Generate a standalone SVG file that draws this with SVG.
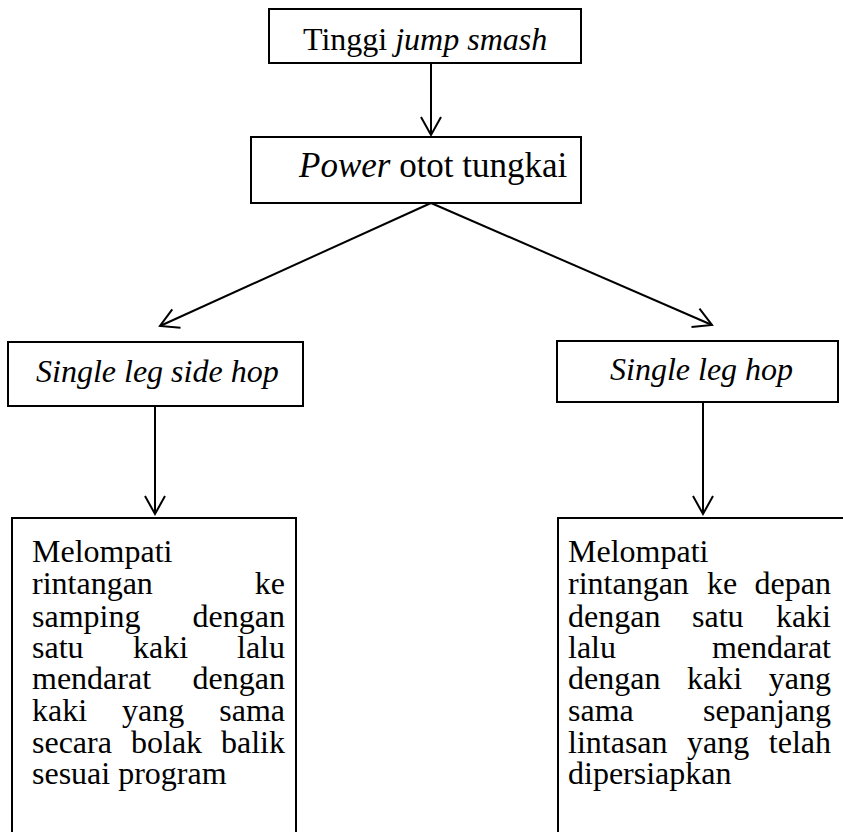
<svg xmlns="http://www.w3.org/2000/svg" width="843" height="832" viewBox="0 0 843 832">
<defs>
<marker id="arr" markerUnits="userSpaceOnUse" markerWidth="40" markerHeight="40" refX="0" refY="0" orient="auto" viewBox="-30 -20 40 40" overflow="visible">
<path d="M-18,-10 L0,0 L-18,10" fill="none" stroke="#000" stroke-width="2"/>
</marker>
</defs>
<style>
.box{fill:#fff;stroke:#000;stroke-width:2}
.t{font-family:"Liberation Serif","Times New Roman",serif;font-size:32px;fill:#000}
.i{font-style:italic}
.c{fill:none;stroke:#000;stroke-width:2;marker-end:url(#arr)}
.e{text-anchor:end}
</style>
<rect width="843" height="832" fill="#fff"/>
<g id="connectors">
<line class="c" x1="431" y1="63" x2="431" y2="135"/>
<line class="c" x1="431" y1="203" x2="160" y2="326"/>
<line class="c" x1="431" y1="203" x2="712" y2="325"/>
<line class="c" x1="155" y1="406" x2="155" y2="514"/>
<line class="c" x1="703" y1="402" x2="703" y2="514"/>
</g>
<g id="n-tinggi">
<rect class="box" x="269" y="9" width="312" height="54"/>
<text class="t" x="303" y="50">Tinggi <tspan class="i">jump smash</tspan></text>
</g>
<g id="n-power">
<rect class="box" x="251" y="137" width="330" height="66"/>
<text class="t" x="299" y="177" style="font-size:35px"><tspan class="i">Power</tspan> otot tungkai</text>
</g>
<g id="n-side">
<rect class="box" x="8" y="342" width="295" height="64"/>
<text class="t i" x="36" y="382">Single leg side hop</text>
</g>
<g id="n-hop">
<rect class="box" x="557" y="341" width="281" height="61"/>
<text class="t i" x="610" y="380">Single leg hop</text>
</g>
<g id="n-desc-left">
<rect class="box" x="12" y="518" width="284" height="330"/>
<text class="t" x="32" y="562">Melompati</text>
<text class="t" x="32" y="594">rintangan</text><text class="t e" x="285" y="594">ke</text>
<text class="t" x="32" y="627">samping</text><text class="t e" x="285" y="627">dengan</text>
<text class="t" x="32" y="658">satu</text><text class="t" x="133" y="658">kaki</text><text class="t e" x="285" y="658">lalu</text>
<text class="t" x="32" y="689">mendarat</text><text class="t e" x="285" y="689">dengan</text>
<text class="t" x="32" y="721">kaki</text><text class="t" x="122" y="721">yang</text><text class="t e" x="285" y="721">sama</text>
<text class="t" x="32" y="753">secara</text><text class="t" x="131" y="753">bolak</text><text class="t e" x="285" y="753">balik</text>
<text class="t" x="32" y="784">sesuai program</text>
</g>
<g id="n-desc-right">
<rect class="box" x="558" y="518" width="300" height="330"/>
<text class="t" x="568" y="562">Melompati</text>
<text class="t" x="568" y="594">rintangan</text><text class="t" x="707" y="594">ke</text><text class="t e" x="831" y="594">depan</text>
<text class="t" x="568" y="627">dengan</text><text class="t" x="692" y="627">satu</text><text class="t e" x="831" y="627">kaki</text>
<text class="t" x="568" y="658">lalu</text><text class="t e" x="831" y="658">mendarat</text>
<text class="t" x="568" y="689">dengan</text><text class="t" x="687" y="689">kaki</text><text class="t e" x="831" y="689">yang</text>
<text class="t" x="568" y="721">sama</text><text class="t e" x="831" y="721">sepanjang</text>
<text class="t" x="568" y="753">lintasan</text><text class="t" x="687" y="753">yang</text><text class="t e" x="831" y="753">telah</text>
<text class="t" x="568" y="784">dipersiapkan</text>
</g>
</svg>
